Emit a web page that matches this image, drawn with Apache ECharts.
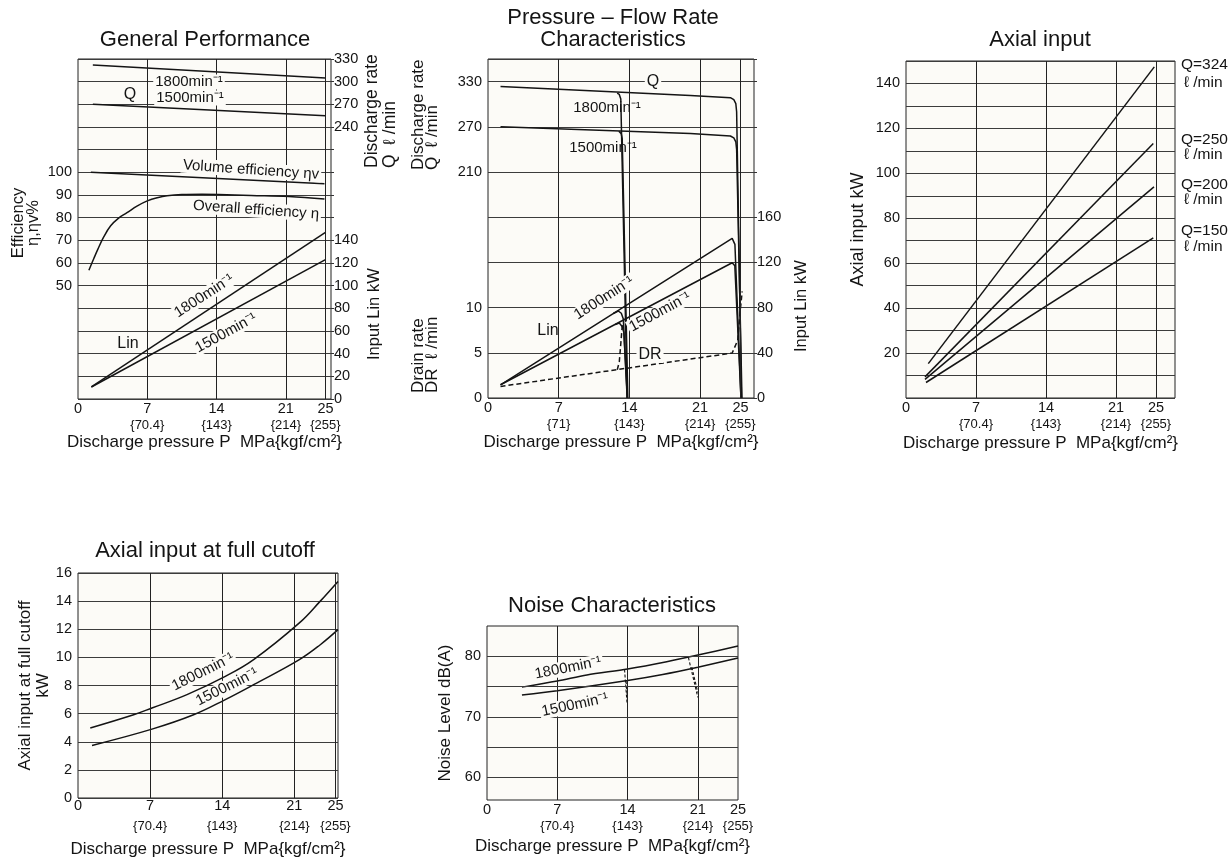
<!DOCTYPE html>
<html><head><meta charset="utf-8">
<script src="https://cdn.jsdelivr.net/npm/echarts@6/dist/echarts.min.js"></script>
<style>html,body{margin:0;padding:0;background:#fff}#c{width:1231px;height:859px}</style>
</head><body><div id="c"></div>
<script>
// ---------- shared axis ticks ----------
const xTickValues = [0, 7, 14, 21, 25];
const kgfLabelsA = ['', '70.4', '143', '214', '255'];
const kgfLabelsB = ['', '71', '143', '214', '255'];

// ---------- General Performance ----------
const gpQ1800 = [[1.5, 322], [25.0, 305]];
const gpQ1500 = [[1.5, 270], [25.0, 255]];
const gpVolEff = [[1.3, 100], [24.9, 95]];
const gpOverallEff = [[1.1, 56.8], [1.6, 62], [2.0, 66], [2.6, 71.5], [3.3, 76.4], [4.1, 79.8], [4.95, 82.2], [6.0, 85.2], [7.0, 87.4], [8.0, 88.8], [9.0, 89.7], [10.5, 90.2], [12.5, 90.3], [14.2, 90.2], [17.5, 89.8], [21.3, 89.3], [24.9, 88.2]];
const gpLin1800 = [[1.35, 10.6], [25.0, 147]];
const gpLin1500 = [[1.35, 10.6], [25.0, 123]];
const gpEffLabels = [50, 60, 70, 80, 90, 100];
const gpQLabels = [240, 270, 300, 330];
const gpLinLabels = [0, 20, 40, 60, 80, 100, 120, 140];

// ---------- Pressure - Flow Rate ----------
const pfQ1800 = [[1.24, 323.6], [20.04, 311.7], [24.0, 308.7], [24.34, 306], [24.54, 300.7], [24.62, 290], [25.1, -90]];
const pfQ1500 = [[1.24, 270], [20.04, 261], [24.0, 257.8], [24.34, 255.2], [24.54, 250], [24.62, 240], [25.15, -90]];
const pfQ1800Cut14 = [[12.79, 314.8], [13.0, 313], [13.15, 307], [13.78, -90]];
const pfQ1500Cut14 = [[12.95, 264], [13.19, 261], [13.29, 254.4], [13.85, -90]];
const pfLin1800 = [[1.24, 11.7], [24.18, 141.3], [24.45, 136], [25.05, 0]];
const pfLin1500 = [[1.24, 11.7], [24.18, 119.7], [24.44, 117], [25.05, 0]];
const pfLin1800Cut14 = [[12.4, 74.8], [12.9, 77.0], [13.2, 75], [13.4, 70], [13.78, 0]];
const pfLin1500Cut14 = [[12.6, 65], [13.0, 66.3], [13.3, 63], [13.45, 58], [13.8, 0]];
const pfDR = [[1.24, 1.28], [24.18, 4.97], [24.34, 5.14], [24.73, 6.4], [25.0, 9.9], [25.17, 11.8]];
const pfDRCut14 = [[12.8, 3.12], [13.0, 4.0], [13.15, 6], [13.3, 8.1]];
const pfQLabels = [210, 270, 330];
const pfDRLabels = [0, 5, 10];
const pfLinLabels = [0, 40, 80, 120, 160];

// ---------- Axial input ----------
const aiFlowNames = ['Q=324', 'Q=250', 'Q=200', 'Q=150'];
const ai324 = [[2.23, 15.3], [24.83, 147.4]];
const ai250 = [[1.9, 9.4], [24.73, 113.3]];
const ai200 = [[1.9, 8.3], [24.8, 94]];
const ai150 = [[2.0, 6.9], [24.73, 71.3]];
const aiLabels = [20, 40, 60, 80, 100, 120, 140];

// ---------- Axial input at full cutoff ----------
const fc1800 = [[1.19, 4.98], [5.4, 5.92], [7.18, 6.4], [10.58, 7.35], [14.3, 8.65], [17.05, 9.84], [21.49, 12.45], [23.52, 14.0], [25.24, 15.4]];
const fc1500 = [[1.36, 3.74], [7.18, 4.9], [11.22, 5.92], [14.3, 7.0], [17.05, 8.06], [21.49, 9.84], [23.52, 10.9], [25.24, 11.97]];
const fcLabels = [0, 2, 4, 6, 8, 10, 12, 14, 16];

// ---------- Noise ----------
const ns1800 = [[3.48, 74.9], [7.0, 75.9], [9.95, 76.9], [14.0, 77.9], [17.9, 79.1], [21.0, 80.2], [25.0, 81.7]];
const ns1500 = [[3.48, 73.6], [7.0, 74.3], [14.0, 76.0], [17.5, 77.0], [21.0, 78.2], [25.0, 79.7]];
const ns1800Drop14 = [[13.7, 77.8], [13.95, 72.2]];
const ns1500Drop14 = [[13.85, 75.9], [14.0, 72.8]];
const ns1800Drop21 = [[20.06, 79.8], [21.0, 73.2]];
const ns1500Drop21 = [[20.4, 78.2], [21.0, 74.0]];
const nsLabels = [60, 70, 80];
const nsGridValues = [60, 65, 70, 75, 80];

// ---------- styling ----------
const FONT = '"Liberation Sans", Arial, Helvetica, sans-serif';
const INK = '#141414';
const BG = '#fcfbf7';
const GRIDV = '#222';
const GRIDH = '#3c3c3c';

const chart = echarts.init(document.getElementById('c'), null, {renderer: 'canvas'});

function xAxisCfg(gridIndex, max, kgf, o) {
  return {
    type: 'value', gridIndex, min: 0, max, interval: 1,
    axisLine: {show: false}, axisTick: {show: false}, splitLine: {show: false},
    name: 'Discharge pressure P  MPa{kgf/cm²}', nameLocation: 'middle', nameGap: o.gap,
    nameTextStyle: {fontFamily: FONT, fontSize: 17, color: INK},
    axisLabel: {
      margin: o.margin, fontFamily: FONT, fontSize: 13, color: INK, lineHeight: o.kLH,
      formatter: v => {
        const i = xTickValues.indexOf(Math.round(v * 1000) / 1000);
        if (i < 0) return '';
        return kgf[i] ? '{b|' + v + '}\n{' + kgf[i] + '}' : '{b|' + v + '}';
      },
      rich: {b: {fontFamily: FONT, fontSize: 14.5, color: INK, lineHeight: o.bLH}}
    }
  };
}
function showOnly(list) {
  return v => (list.indexOf(Math.round(v * 1000) / 1000) >= 0 ? String(v) : '');
}
function yAxisCfg(gridIndex, min, max, interval, labels, extra) {
  return Object.assign({
    type: 'value', gridIndex, min, max, interval,
    axisLine: {show: false}, axisTick: {show: false},
    splitLine: {show: false},
    axisLabel: {fontFamily: FONT, fontSize: 14.5, color: INK, margin: 6, formatter: showOnly(labels)}
  }, extra || {});
}
const hSplit = {show: true, lineStyle: {color: GRIDH, width: 1}};
const rightLabel = labels => ({fontFamily: FONT, fontSize: 14.5, color: INK, margin: 3, formatter: showOnly(labels)});

function vGrid(values) {
  return {
    silent: true, symbol: ['none', 'none'], animation: false, label: {show: false},
    lineStyle: {color: GRIDV, width: 1, type: 'solid'}, emphasis: {disabled: true},
    data: values.map(v => ({xAxis: v}))
  };
}
function ln(name, data, xi, yi, o) {
  o = o || {};
  const s = {
    name, type: 'line', data, xAxisIndex: xi, yAxisIndex: yi, symbol: 'none',
    silent: true, animation: false, smooth: o.smooth || false, z: 3,
    lineStyle: {color: INK, width: o.w || 1.5, type: o.dash || 'solid'}
  };
  if (o.markLine) s.markLine = o.markLine;
  return s;
}
function txt(text, x, y, o) {
  o = o || {};
  const style = {
    text, fontFamily: FONT, fontSize: o.size || 15, fill: INK,
    align: o.align || 'center', verticalAlign: o.va || 'middle'
  };
  if (o.lh) style.lineHeight = o.lh;
  if (o.bg) { style.backgroundColor = BG; style.padding = [0, 2]; }
  return {type: 'text', x, y, rotation: (o.rot || 0) * Math.PI / 180, z: 100, silent: true, style};
}
function title(text, cx, cy, lh) {
  return {
    text, left: cx, top: cy, textAlign: 'center', textVerticalAlign: 'middle', padding: 0,
    textStyle: {fontFamily: FONT, fontSize: 22, fontWeight: 'normal', color: INK, lineHeight: lh || 24}
  };
}
const gridStyle = {show: true, backgroundColor: BG, borderColor: '#222', borderWidth: 1, containLabel: false};

const grids = [
  Object.assign({left: 78, top: 59, width: 253, height: 340}, gridStyle),
  Object.assign({left: 488, top: 59, width: 266, height: 339}, gridStyle),
  Object.assign({left: 906, top: 61, width: 269, height: 337}, gridStyle),
  Object.assign({left: 78, top: 573, width: 260, height: 225}, gridStyle),
  Object.assign({left: 487, top: 626, width: 251, height: 174}, gridStyle)
];

const stdX = {gap: 35, margin: 2, bLH: 16, kLH: 16};
const xAxes = [
  xAxisCfg(0, 25.56, kgfLabelsA, stdX),
  xAxisCfg(1, 26.34, kgfLabelsB, Object.assign({}, stdX, {gap: 36})),
  xAxisCfg(2, 26.9, kgfLabelsA, Object.assign({}, stdX, {gap: 37})),
  xAxisCfg(3, 25.24, kgfLabelsA, {gap: 41, margin: 2, bLH: 12, kLH: 28}),
  xAxisCfg(4, 25, kgfLabelsA, Object.assign({}, stdX, {gap: 38}))
];

const yAxes = [
  // 0: efficiency (left, panel 1)
  yAxisCfg(0, 0, 150, 10, gpEffLabels, {position: 'left'}),
  // 1: discharge rate (right, panel 1)
  yAxisCfg(0, -120, 330, 30, gpQLabels, {position: 'right', axisLabel: rightLabel(gpQLabels)}),
  // 2: input Lin (right, panel 1) -> horizontal grid
  yAxisCfg(0, 0, 300, 20, gpLinLabels, {position: 'right', splitLine: hSplit, axisLabel: rightLabel(gpLinLabels),
    axisTick: {show: true, length: 3, lineStyle: {color: '#333'}}}),
  // 3: Q (left, panel 2)
  yAxisCfg(1, -90, 360, 30, pfQLabels, {position: 'left'}),
  // 4: drain (left, panel 2)
  yAxisCfg(1, 0, 37.5, 5, pfDRLabels, {position: 'left', offset: 0}),
  // 5: Lin (right, panel 2) -> horizontal grid
  yAxisCfg(1, 0, 300, 40, pfLinLabels, {position: 'right', splitLine: hSplit, axisLabel: rightLabel(pfLinLabels),
    axisTick: {show: true, length: 3, lineStyle: {color: '#333'}}}),
  // 6: axial input
  yAxisCfg(2, 0, 150, 10, aiLabels, {position: 'left', splitLine: hSplit,
    name: 'Axial input kW', nameLocation: 'middle', nameGap: 39,
    nameTextStyle: {fontFamily: FONT, fontSize: 18, color: INK}}),
  // 7: full cutoff
  yAxisCfg(3, 0, 16, 2, fcLabels, {position: 'left', splitLine: hSplit,
    name: 'Axial input at full cutoff\nkW', nameLocation: 'middle', nameGap: 20,
    nameTextStyle: {fontFamily: FONT, fontSize: 17, color: INK, lineHeight: 18}}),
  // 8: noise
  yAxisCfg(4, 56.25, 85, 1.25, nsLabels, {position: 'left',
    name: 'Noise Level dB(A)', nameLocation: 'middle', nameGap: 33,
    nameTextStyle: {fontFamily: FONT, fontSize: 17, color: INK}})
];

const series = [
  // panel 1
  ln('Q 1800', gpQ1800, 0, 1, {markLine: vGrid([7, 14, 21, 25])}),
  ln('Q 1500', gpQ1500, 0, 1),
  ln('Volume efficiency', gpVolEff, 0, 0),
  ln('Overall efficiency', gpOverallEff, 0, 0, {smooth: 0.4}),
  ln('Lin 1800', gpLin1800, 0, 2),
  ln('Lin 1500', gpLin1500, 0, 2),
  // panel 2
  ln('Q 1800', pfQ1800, 1, 3, {markLine: vGrid([7, 14, 21, 25])}),
  ln('Q 1500', pfQ1500, 1, 3),
  ln('Q 1800 cut 14', pfQ1800Cut14, 1, 3),
  ln('Q 1500 cut 14', pfQ1500Cut14, 1, 3),
  ln('Lin 1800', pfLin1800, 1, 5),
  ln('Lin 1500', pfLin1500, 1, 5),
  ln('Lin 1800 cut 14', pfLin1800Cut14, 1, 5),
  ln('Lin 1500 cut 14', pfLin1500Cut14, 1, 5),
  ln('DR', pfDR, 1, 4, {dash: [5, 3]}),
  ln('DR cut 14', pfDRCut14, 1, 4, {dash: [5, 3]}),
  // panel 3
  ln('Q=324', ai324, 2, 6, {markLine: vGrid([7, 14, 21, 25])}),
  ln('Q=250', ai250, 2, 6),
  ln('Q=200', ai200, 2, 6),
  ln('Q=150', ai150, 2, 6),
  // panel 4
  ln('1800', fc1800, 3, 7, {smooth: 0.4, markLine: vGrid([7, 14, 21, 25])}),
  ln('1500', fc1500, 3, 7, {smooth: 0.4}),
  // panel 5
  ln('1800', ns1800, 4, 8, {smooth: 0.3, markLine: {
    silent: true, symbol: ['none', 'none'], animation: false, label: {show: false}, emphasis: {disabled: true},
    data: [7, 14, 21].map(v => ({xAxis: v, lineStyle: {color: GRIDV, width: 1, type: 'solid'}}))
      .concat(nsGridValues.map(v => ({yAxis: v, lineStyle: {color: GRIDH, width: 1, type: 'solid'}})))
  }}),
  ln('1500', ns1500, 4, 8, {smooth: 0.3}),
  ln('1800 drop 14', ns1800Drop14, 4, 8, {dash: [3, 2], w: 1.1}),
  ln('1500 drop 14', ns1500Drop14, 4, 8, {dash: [3, 2], w: 1.1}),
  ln('1800 drop 21', ns1800Drop21, 4, 8, {dash: [3, 2], w: 1.1}),
  ln('1500 drop 21', ns1500Drop21, 4, 8, {dash: [3, 2], w: 1.1})
];

const graphics = [
  // panel 1
  txt('Efficiency\nη,ηv%', 26, 223, {rot: 90, size: 16.5, lh: 15}),
  txt('Q', 130, 95, {size: 16}),
  txt('1800min⁻¹', 189, 82, {bg: true}),
  txt('1500min⁻¹', 190, 98, {bg: true}),
  txt('Volume efficiency ηv', 251, 170, {rot: -4, bg: true}),
  txt('Overall efficiency η', 256, 210, {rot: -4, bg: true}),
  txt('1800min⁻¹', 204, 296, {rot: 33, bg: true}),
  txt('1500min⁻¹', 226, 333, {rot: 28.5, bg: true}),
  txt('Lin', 128, 344, {size: 16}),
  txt('Discharge rate\nQ  ℓ /min', 381, 168, {rot: 90, align: 'left', size: 17.5, lh: 18}),
  txt('Input Lin kW', 374, 360, {rot: 90, align: 'left', size: 16.5}),
  // panel 2
  txt('Q', 653, 82, {size: 16, bg: true}),
  txt('1800min⁻¹', 607, 108),
  txt('1500min⁻¹', 603, 148),
  txt('Lin', 548, 331, {size: 16}),
  txt('1800min⁻¹', 604, 298, {rot: 32.8, bg: true}),
  txt('1500min⁻¹', 660, 312, {rot: 28.3, bg: true}),
  txt('DR', 650, 355, {size: 16, bg: true}),
  txt('Discharge rate\nQ  ℓ /min', 425.5, 170, {rot: 90, align: 'left', size: 17, lh: 14.5}),
  txt('Drain rate\nDR  ℓ /min', 425.5, 393, {rot: 90, align: 'left', size: 17, lh: 14.5}),
  txt('Input Lin kW', 801, 352, {rot: 90, align: 'left', size: 16.5}),
  // panel 3 right labels
  txt(aiFlowNames[0], 1181, 65, {align: 'left', size: 15.5}),
  txt('ℓ /min', 1184, 83, {align: 'left', size: 15.5}),
  txt(aiFlowNames[1], 1181, 140, {align: 'left', size: 15.5}),
  txt('ℓ /min', 1184, 155, {align: 'left', size: 15.5}),
  txt(aiFlowNames[2], 1181, 185, {align: 'left', size: 15.5}),
  txt('ℓ /min', 1184, 200, {align: 'left', size: 15.5}),
  txt(aiFlowNames[3], 1181, 231, {align: 'left', size: 15.5}),
  txt('ℓ /min', 1184, 247, {align: 'left', size: 15.5}),
  // panel 4
  txt('1800min⁻¹', 203, 672, {rot: 26.6, bg: true}),
  txt('1500min⁻¹', 227, 687, {rot: 26.6, bg: true}),
  // panel 5
  txt('1800min⁻¹', 568, 668, {rot: 11, bg: true}),
  txt('1500min⁻¹', 575, 705, {rot: 12, bg: true})
];

chart.setOption({
  backgroundColor: '#ffffff',
  animation: false,
  title: [
    title('General Performance', 205, 40),
    title('Pressure – Flow Rate\nCharacteristics', 613, 29, 22),
    title('Axial input', 1040, 40),
    title('Axial input at full cutoff', 205, 551),
    title('Noise Characteristics', 612, 606)
  ],
  grid: grids,
  xAxis: xAxes,
  yAxis: yAxes,
  series,
  graphic: graphics
});
</script></body></html>
